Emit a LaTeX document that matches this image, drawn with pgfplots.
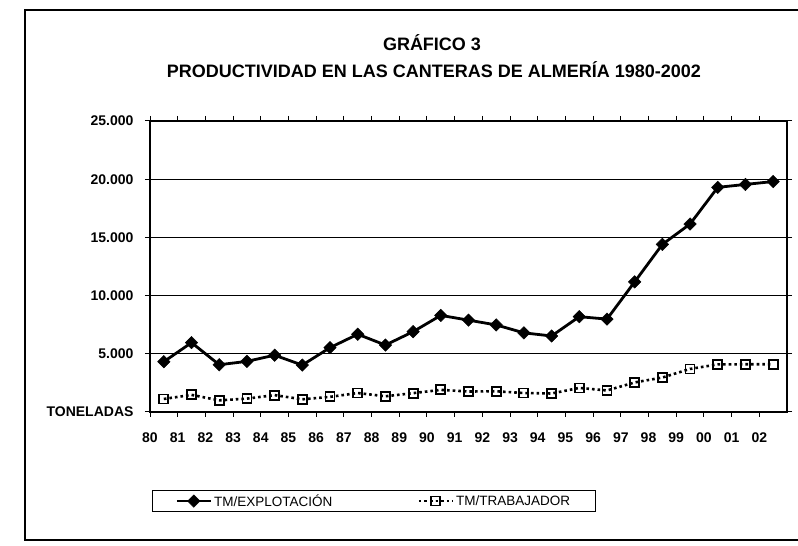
\documentclass[border=0pt]{standalone}
\usepackage{fontspec}
\setmainfont{Liberation Sans}
\usepackage{pgfplots}
\pgfplotsset{compat=1.18}
\begin{document}
\begin{tikzpicture}[x=1pt,y=1pt]
\useasboundingbox (0,0) rectangle (798,546);
\draw[line width=1.2pt] (805,536) -- (25,536) -- (25,6) -- (805,6);
\node[font=\fontsize{18}{20}\selectfont\bfseries] at (432,503) {GRÁFICO 3};
\node[font=\fontsize{18}{20}\selectfont\bfseries] at (434,476) {PRODUCTIVIDAD EN LAS CANTERAS DE ALMERÍA 1980-2002};
\begin{axis}[
  at={(150pt,134pt)}, anchor=south west,
  scale only axis, width=637pt, height=291pt,
  xmin=-0.5, xmax=22.5, ymin=0, ymax=25000,
  scaled y ticks=false,
  axis line style={line width=1.5pt, black},
  ymajorgrids, grid style={line width=1.2pt, black},
  ytick={0,5000,10000,15000,20000,25000},
  yticklabels={TONELADAS,5.000,10.000,15.000,20.000,25.000},
  yticklabel style={font=\fontsize{14}{16}\selectfont\bfseries, xshift=-8pt},
  xtick={-0.5,0.5,1.5,2.5,3.5,4.5,5.5,6.5,7.5,8.5,9.5,10.5,11.5,12.5,13.5,14.5,15.5,16.5,17.5,18.5,19.5,20.5,21.5},
  xticklabels={80,81,82,83,84,85,86,87,88,89,90,91,92,93,94,95,96,97,98,99,00,01,02},
  xticklabel style={font=\fontsize{14}{16}\selectfont\bfseries, yshift=-12pt},
  tick align=outside, major tick length=5pt,
  tick style={line width=1pt, black},
  legend style={at={(0.003,-0.268)}, anchor=north west, legend columns=2,
    draw=black, line width=1pt, inner xsep=23pt, inner ysep=2pt,
    font=\fontsize{13.5}{15}\selectfont,
    /tikz/column 2/.style={column sep=83pt}},
  legend cell align=left,
  legend image code/.code={\draw[mark repeat=2,mark phase=2] plot coordinates {(0pt,0pt) (17pt,0pt) (34pt,0pt)};},
]
\addplot[black, line width=2.8pt, mark=square*, mark size=4.4pt, mark options={rotate=45, solid, line width=0.5pt}]
coordinates {(0,4320) (1,5960) (2,4060) (3,4350) (4,4880) (5,4030) (6,5530) (7,6680) (8,5750) (9,6900) (10,8300) (11,7890) (12,7480) (13,6800) (14,6530) (15,8190) (16,7980) (17,11180) (18,14400) (19,16150) (20,19300) (21,19550) (22,19800)};
\addlegendentry{TM/EXPLOTACIÓN}
\addplot[black, line width=2.6pt, dash pattern=on 2.6pt off 3pt, mark=square, mark size=4.5pt, mark options={solid, line width=1.8pt, fill=white}]
coordinates {(0,1120) (1,1470) (2,1000) (3,1150) (4,1450) (5,1090) (6,1300) (7,1630) (8,1350) (9,1620) (10,1900) (11,1760) (12,1780) (13,1630) (14,1590) (15,2070) (16,1850) (17,2540) (18,2960) (19,3700) (20,4090) (21,4100) (22,4100)};
\addlegendentry{TM/TRABAJADOR}
\end{axis}
\end{tikzpicture}
\end{document}
